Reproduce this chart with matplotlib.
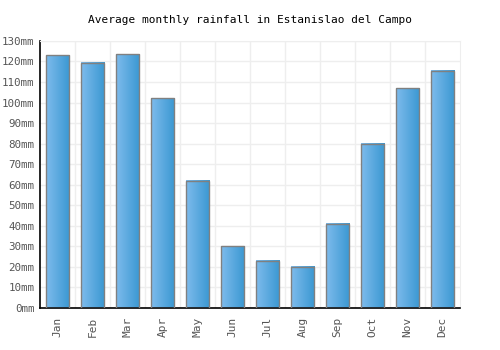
import numpy as np
import matplotlib
matplotlib.use("Agg")
import matplotlib.pyplot as plt
from matplotlib.colors import LinearSegmentedColormap

months = ["Jan", "Feb", "Mar", "Apr", "May", "Jun", "Jul", "Aug", "Sep", "Oct", "Nov", "Dec"]
rainfall = [123, 119.5, 123.5, 102, 62, 30, 23, 20, 41, 80, 107, 115.5]
yticks = list(range(0, 131, 10))
ytick_labels = [f"{v}mm" for v in yticks]

plt.rcParams["font.family"] = ["DejaVu Sans Mono"]

fig = plt.figure(figsize=(5, 3.5), dpi=100)
ax = fig.add_axes([0.08, 0.12, 0.84, 0.763])

cmap = LinearSegmentedColormap.from_list("bar", ["#7ebbec", "#3a98d2"])
grad = np.linspace(0, 1, 64).reshape(1, -1)
width = 0.66

for i, v in enumerate(rainfall):
    x0 = i - width / 2
    ax.imshow(grad, cmap=cmap, aspect="auto", extent=(x0, x0 + width, 0, v),
              zorder=2, interpolation="bilinear")
    ax.bar(i, v, width=width, facecolor="none", edgecolor="#808080", linewidth=1, zorder=3)

ax.set_xlim(-0.5, len(months) - 0.5)
ax.set_ylim(0, 130)
ax.set_xticks(range(len(months)))
ax.set_xticklabels(months, rotation=90, fontsize=8, color="#555555")
ax.set_yticks(yticks)
ax.set_yticklabels(ytick_labels, fontsize=7.8, color="#555555")
ax.set_xticks(np.arange(0.5, len(months) - 0.5, 1), minor=True)
ax.grid(False)
ax.grid(True, which="minor", axis="x", color="#eeeeee", linewidth=1, zorder=0)
ax.grid(True, which="major", axis="y", color="#eeeeee", linewidth=1, zorder=0)
ax.set_axisbelow(True)
ax.tick_params(axis="y", which="both", length=0, pad=4)
ax.tick_params(axis="x", which="both", length=0, pad=6)

for s in ["top", "right"]:
    ax.spines[s].set_color("#eeeeee")
ax.spines["left"].set_color("black")
ax.spines["bottom"].set_color("black")
ax.spines["left"].set_linewidth(1.2)
ax.spines["bottom"].set_linewidth(1.2)

fig.text(0.5, 0.943, "Average monthly rainfall in Estanislao del Campo",
         ha="center", va="center", fontsize=8, color="black")

fig.savefig("out.png", dpi=100)
